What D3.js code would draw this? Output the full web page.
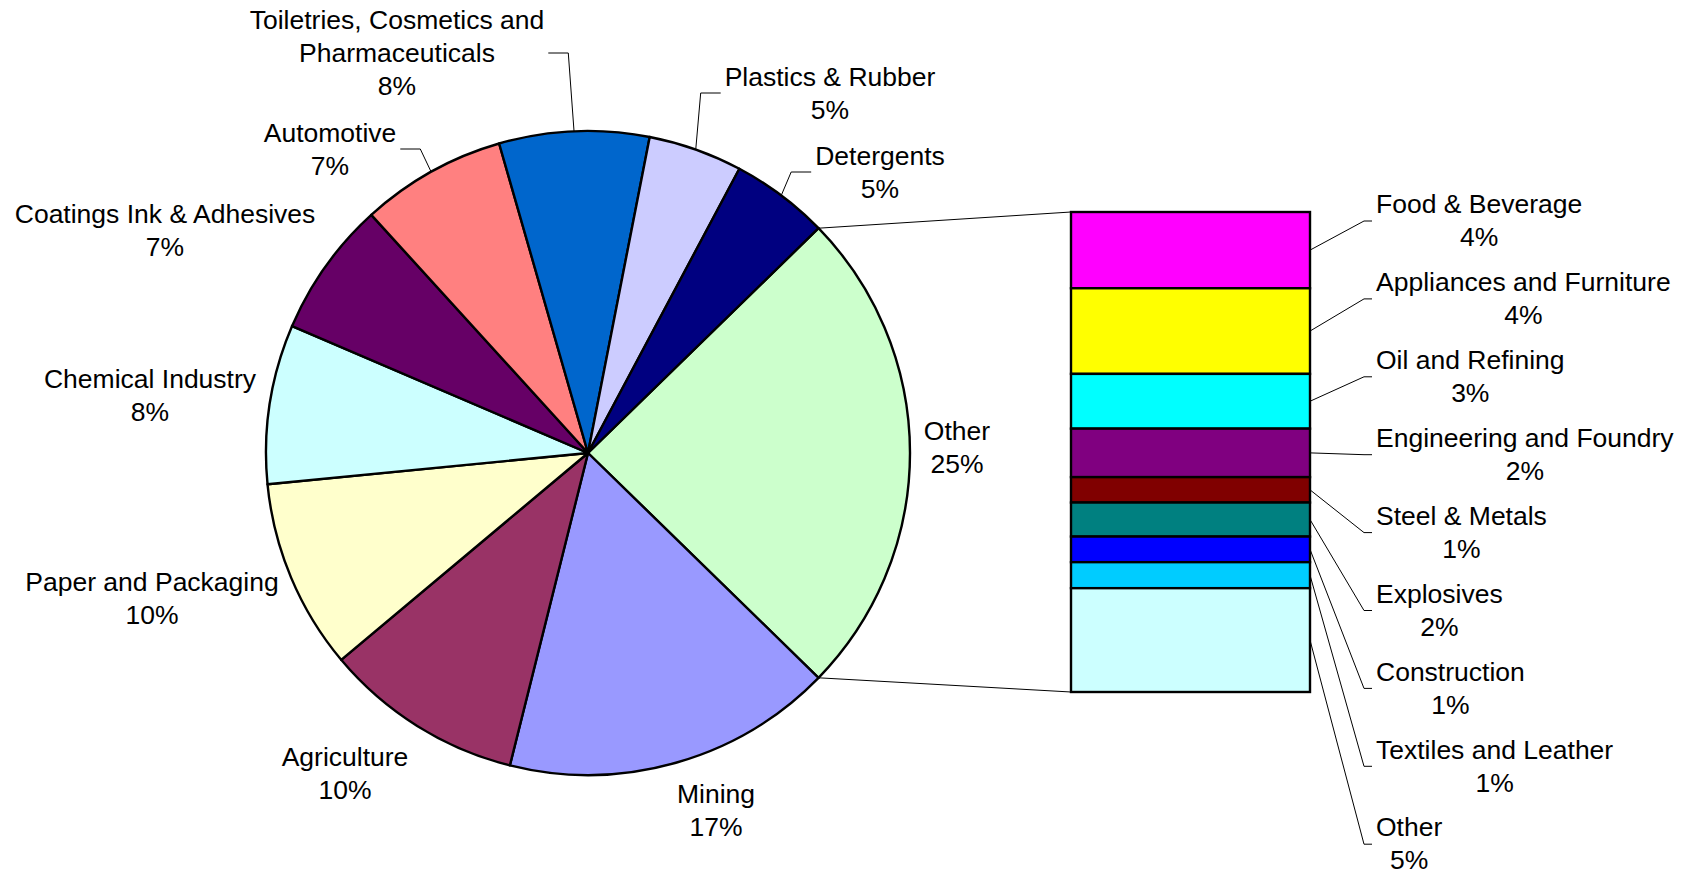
<!DOCTYPE html>
<html><head><meta charset="utf-8">
<script src="https://cdn.jsdelivr.net/npm/d3@7"></script>
<style>
body{margin:0;background:#fff}
svg{display:block}
text{font-family:"Liberation Sans",Arial,Helvetica,sans-serif;font-size:26.5px;fill:#000}
</style>
</head><body>
<svg id="chart" width="1686" height="874"></svg>
<script>
// ---- data ----
const mainCategories = ["Other","Mining","Agriculture","Paper and Packaging","Chemical Industry","Coatings Ink & Adhesives","Automotive","Toiletries, Cosmetics and Pharmaceuticals","Plastics & Rubber","Detergents"];
const mainValues = [24.6,16.6,10.0,9.55,8.0,6.8,7.3,7.52,4.72,4.91];
const mainColors = ["#CCFFCC","#9999FF","#993366","#FFFFCC","#CCFFFF","#660066","#FF8080","#0066CC","#CCCCFF","#000080"];

const subCategories = ["Food & Beverage","Appliances and Furniture","Oil and Refining","Engineering and Foundry","Steel & Metals","Explosives","Construction","Textiles and Leather","Other"];
const subValues = [3.9,4.38,2.8,2.48,1.3,1.74,1.31,1.33,5.31];
const subColors = ["#FF00FF","#FFFF00","#00FFFF","#800080","#800000","#008080","#0000FF","#00CCFF","#CCFFFF"];

// ---- layout (label placement relative to pie centre) ----
const mainLabelLayout = [
  {dx:369, dy:-6},
  {dx:128, dy:357},
  {dx:-243, dy:320},
  {dx:-436, dy:145},
  {dx:-438, dy:-58},
  {dx:-423, dy:-223},
  {dx:-258, dy:-304, leader:true},
  {dx:-191, dy:-400, leader:true, lines:["Toiletries, Cosmetics and","Pharmaceuticals"]},
  {dx:242, dy:-360, leader:true},
  {dx:292, dy:-281, leader:true}
];

const W = 1686, H = 874;
const cx = 588, cy = 453, R = 322;
const barX0 = 1071, barX1 = 1310, barY0 = 212, barY1 = 692;
const lineH = 33;

const svg = d3.select("#chart");
const total = d3.sum(mainValues);
const pct = v => Math.round(v / total * 100) + "%";

const otherFrac = mainValues[0] / total;
const start = Math.PI/2 - otherFrac * Math.PI;

const pie = d3.pie().sort(null).value(d => d.v).startAngle(start).endAngle(start + 2*Math.PI);
const data = mainCategories.map((c,i) => ({c, v:mainValues[i], col:mainColors[i], lay:mainLabelLayout[i]}));
const arcs = pie(data);
const arc = d3.arc().innerRadius(0).outerRadius(R);

const gPie = svg.append("g").attr("transform", `translate(${cx},${cy})`);
const pt = (a, r) => [r*Math.sin(a), -r*Math.cos(a)];

// connector lines pie -> bar
const a0 = arcs[0].startAngle, a1 = arcs[0].endAngle;
const p0 = pt(a0, R), p1 = pt(a1, R);
svg.append("line").attr("x1", cx+p0[0]).attr("y1", cy+p0[1]).attr("x2", barX0).attr("y2", barY0)
  .attr("stroke","#000").attr("stroke-width",1);
svg.append("line").attr("x1", cx+p1[0]).attr("y1", cy+p1[1]).attr("x2", barX0).attr("y2", barY1)
  .attr("stroke","#000").attr("stroke-width",1);

gPie.selectAll("path.slice").data(arcs).join("path")
  .attr("class","slice")
  .attr("d", arc)
  .attr("fill", d => d.data.col)
  .attr("stroke","#000").attr("stroke-width",2.4).attr("stroke-linejoin","round");

// main labels
arcs.forEach(d => {
  const lay = d.data.lay;
  const lines = (lay.lines || [d.data.c]).concat([pct(d.data.v)]);
  const n = lines.length;
  const g = gPie.append("g");
  const t = g.append("text").attr("text-anchor","middle");
  lines.forEach((ln, k) => {
    t.append("tspan").attr("x", lay.dx).attr("y", lay.dy + (k - (n-1)/2)*lineH).attr("dy","0.35em").text(ln);
  });
  if (lay.leader) {
    const bb = t.node().getBBox();
    const mid = (d.startAngle + d.endAngle)/2;
    const s = pt(mid, R);
    const left = lay.dx < s[0];
    const ex = left ? bb.x + bb.width + 4 : bb.x - 4;
    const ey = lay.dy;
    const kx = left ? ex + 20 : ex - 20;
    g.append("polyline").attr("points", [[s[0],s[1]],[kx,ey],[ex,ey]].map(p=>p.join(",")).join(" "))
      .attr("fill","none").attr("stroke","#000").attr("stroke-width",1);
  }
});

// bar of pie
const subTotal = d3.sum(subValues);
const y = d3.scaleLinear().domain([0, subTotal]).range([barY0, barY1]);
let acc = 0;
const subData = subCategories.map((c,i) => { const o = {c, v:subValues[i], col:subColors[i], y0:acc}; acc += subValues[i]; o.y1 = acc; return o; });

const gBar = svg.append("g");
gBar.selectAll("rect").data(subData).join("rect")
  .attr("x", barX0).attr("width", barX1 - barX0)
  .attr("y", d => y(d.y0)).attr("height", d => y(d.y1) - y(d.y0))
  .attr("fill", d => d.col).attr("stroke","#000").attr("stroke-width",2.4);

// bar labels
const labX = 1376, labY0 = 204, labStep = 77.9;
subData.forEach((d,i) => {
  const ny = labY0 + i*labStep;
  const t = gBar.append("text").attr("x", labX).attr("y", ny).attr("dy","0.35em").text(d.c);
  const w = t.node().getComputedTextLength();
  gBar.append("text").attr("x", labX + w/2).attr("y", ny + lineH).attr("dy","0.35em")
    .attr("text-anchor","middle").text(pct(d.v));
  const sy = (y(d.y0) + y(d.y1))/2;
  const ly = ny + 17;
  gBar.append("polyline").attr("points", `${barX1},${sy} ${labX-12},${ly} ${labX-4},${ly}`)
    .attr("fill","none").attr("stroke","#000").attr("stroke-width",1);
});
</script>
</body></html>
